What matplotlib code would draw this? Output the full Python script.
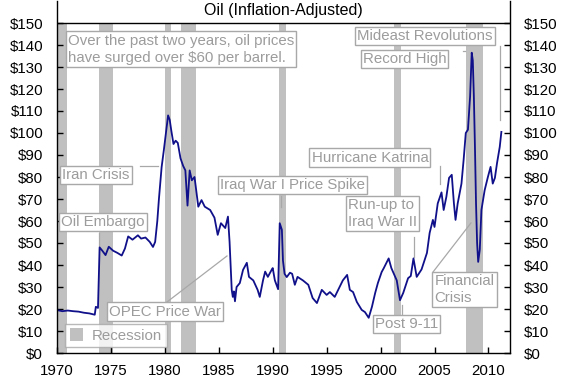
import matplotlib
matplotlib.use("Agg")
import matplotlib.pyplot as plt
from matplotlib.patches import Patch

plt.rcParams['font.family'] = ['Liberation Sans', 'DejaVu Sans']

# ---- data ----
years = [1970.0, 1970.5, 1971.0, 1971.5, 1972.0, 1972.5, 1973.0, 1973.5, 1973.6, 1973.8,
         1973.95, 1974.2, 1974.5, 1974.8, 1975.2, 1975.6, 1976.0, 1976.3, 1976.6, 1977.0,
         1977.5, 1977.8, 1978.2, 1978.6, 1978.9, 1979.1, 1979.3, 1979.45, 1979.7, 1979.9,
         1980.1, 1980.3, 1980.45, 1980.6, 1980.8, 1981.0, 1981.2, 1981.45, 1981.7, 1981.9,
         1982.1, 1982.3, 1982.5, 1982.75, 1983.1, 1983.4, 1983.7, 1984.2, 1984.6, 1984.9,
         1985.2, 1985.6, 1985.85, 1986.0, 1986.2, 1986.3, 1986.4, 1986.5, 1986.65, 1986.95,
         1987.25, 1987.6, 1987.8, 1988.2, 1988.6, 1988.8, 1989.1, 1989.3, 1989.55, 1989.9,
         1990.0, 1990.2, 1990.5, 1990.65, 1990.85, 1990.95, 1991.1, 1991.3, 1991.6, 1991.8,
         1992.05, 1992.3, 1992.8, 1993.3, 1993.7, 1994.1, 1994.55, 1995.0, 1995.3, 1995.75,
         1996.2, 1996.5, 1996.9, 1997.15, 1997.45, 1997.8, 1998.25, 1998.55, 1998.9, 1999.2,
         1999.5, 1999.75, 2000.1, 2000.3, 2000.55, 2000.75, 2001.0, 2001.5, 2001.8, 2002.1,
         2002.55, 2002.8, 2003.05, 2003.35, 2003.8, 2004.3, 2004.55, 2004.85, 2005.0, 2005.3,
         2005.65, 2005.85, 2006.1, 2006.35, 2006.6, 2006.8, 2006.95, 2007.15, 2007.5, 2007.7,
         2007.9, 2008.1, 2008.3, 2008.45, 2008.55, 2008.65, 2008.75, 2008.85, 2008.95, 2009.05,
         2009.2, 2009.35, 2009.65, 2009.95, 2010.2, 2010.4, 2010.6, 2010.8, 2011.05, 2011.2]
prices = [19.5, 19.0, 19.3, 19.0, 18.8, 18.3, 18.0, 17.4, 21.0, 20.5,
          48.0, 46.5, 44.5, 48.3, 46.5, 45.5, 44.3, 47.5, 53.0, 51.5,
          53.5, 52.0, 52.5, 50.5, 48.2, 50.5, 60.0, 70.0, 84.5, 92.0,
          100.0, 108.0, 106.0, 101.0, 95.0, 96.5, 95.5, 88.5, 85.0, 83.0,
          67.0, 83.0, 78.5, 80.0, 66.5, 69.5, 66.5, 65.0, 61.5, 53.7,
          59.0, 56.8, 62.0, 50.5, 28.7, 25.5, 28.0, 23.5, 30.0, 31.8,
          37.8, 41.0, 34.6, 33.0, 28.7, 25.5, 33.0, 37.0, 34.6, 37.8,
          38.6, 33.0, 29.0, 59.0, 56.0, 42.0, 36.0, 34.5, 36.5, 36.0,
          31.0, 34.6, 33.0, 31.0, 25.0, 22.7, 28.7, 26.4, 27.7, 25.5,
          30.0, 33.0, 35.5, 28.7, 27.7, 23.2, 19.6, 18.6, 16.0, 21.0,
          27.3, 31.8, 36.8, 38.6, 41.0, 43.0, 38.6, 33.0, 24.0, 27.3,
          34.0, 35.0, 43.0, 34.6, 38.0, 45.5, 54.6, 60.5, 57.3, 68.0,
          73.0, 65.0, 71.0, 79.6, 81.0, 68.0, 60.5, 68.0, 77.0, 87.8,
          100.0, 101.5, 116.5, 136.5, 133.0, 116.5, 93.7, 68.0, 50.0, 41.4,
          47.0, 65.0, 74.0, 80.0, 84.6, 77.0, 79.6, 86.4, 93.7, 100.5]

recession_start = [1969.9, 1973.9, 1980.0, 1981.5, 1990.55, 2001.2, 2007.9]
recession_end = [1970.9, 1975.2, 1980.55, 1982.9, 1991.2, 2001.9, 2009.5]

x_ticks = [1970, 1975, 1980, 1985, 1990, 1995, 2000, 2005, 2010]
y_ticks = list(range(0, 151, 10))

title = "Oil (Inflation-Adjusted)"

# annotations: text, text top-left (year, value), leader line ((x0, y0), (x1, y1)) or None
notes = [
    ("Over the past two years, oil prices\nhave surged over $60 per barrel.", (1971.0, 145.2), None),
    ("Iran Crisis", (1970.5, 84.2), ((1977.65, 85.1), (1979.35, 85.1))),
    ("Oil Embargo", (1970.4, 62.8), ((1973.9, 54.5), (1973.9, 48.6))),
    ("OPEC Price War", (1974.85, 22.0), ((1980.2, 23.2), (1985.76, 44.1))),
    ("Iraq War I Price Spike", (1985.1, 79.4), ((1990.75, 71.4), (1990.75, 66.4))),
    ("Hurricane Katrina", (1993.6, 92.0), ((2005.5, 85.0), (2005.5, 76.8))),
    ("Run-up to\nIraq War II", (1996.95, 70.5), ((2003.1, 52.7), (2003.1, 43.6))),
    ("Post 9-11", (1999.45, 16.2), ((2002.0, 16.8), (2002.0, 21.8))),
    ("Financial\nCrisis", (2005.0, 36.0), ((2004.86, 36.8), (2008.38, 59.1))),
    ("Record High", (1998.35, 136.7), ((2007.6, 137.3), (2007.85, 137.3))),
    ("Mideast Revolutions", (1997.85, 147.1), ((2011.07, 139.5), (2011.07, 105.9))),
]

# ---- figure ----
fig = plt.figure(figsize=(5.86, 3.85), dpi=100)
ax = fig.add_axes([57 / 586, 1 - 353 / 385, 453 / 586, 352 / 385])
ax.set_xlim(1970, 2012)
ax.set_ylim(0, 160)

bar_color = '#c0c0c0'
for s, e in zip(recession_start, recession_end):
    ax.axvspan(s, e, ymin=0, ymax=150 / 160, color=bar_color, lw=0, zorder=1)

ax.plot(years, prices, color='#10108a', lw=1.3, zorder=3)

ax.axhline(150, color='black', lw=1.0, zorder=4)
ax.spines['top'].set_visible(False)
for sp in ['left', 'right', 'bottom']:
    ax.spines[sp].set_linewidth(1.0)
    ax.spines[sp].set_color('black')
    ax.spines[sp].set_zorder(5)

ax.set_xticks(x_ticks)
ax.set_xticklabels([str(v) for v in x_ticks])
ax.set_yticks(y_ticks)
ax.set_yticklabels([f"${v}" for v in y_ticks])
ax.tick_params(axis='y', direction='in', length=4, width=1, left=True, right=True,
               labelleft=True, labelright=True, labelsize=10.8, pad=10)
ax.tick_params(axis='x', direction='in', length=4, width=1, labelsize=10.8, pad=8)

ax.text(1991.0, 155.6, title, ha='center', va='center', fontsize=11.5, color='black')

txt_color = '#9c9c9c'
edge_color = '#a8a8a8'
for text, (tx, ty), leader in notes:
    ax.text(tx, ty, text, ha='left', va='top', fontsize=10.8, color=txt_color,
            linespacing=1.3, zorder=6,
            bbox=dict(boxstyle='square,pad=0.14', facecolor='white',
                      edgecolor=edge_color, lw=1.0))
    if leader is not None:
        (x0, y0), (x1, y1) = leader
        ax.plot([x0, x1], [y0, y1], color=edge_color, lw=0.9, zorder=2)

leg = ax.legend(handles=[Patch(facecolor=bar_color, edgecolor='none', label='Recession')],
                loc='lower left', bbox_to_anchor=(0.0177, 0.017), borderaxespad=0,
                frameon=True, fancybox=False, fontsize=10.8, handlelength=0.9,
                handleheight=0.9, handletextpad=0.6, borderpad=0.3)
leg.get_frame().set_edgecolor(edge_color)
leg.get_frame().set_linewidth(1.0)
for t in leg.get_texts():
    t.set_color(txt_color)

fig.savefig("out.png", dpi=100)
